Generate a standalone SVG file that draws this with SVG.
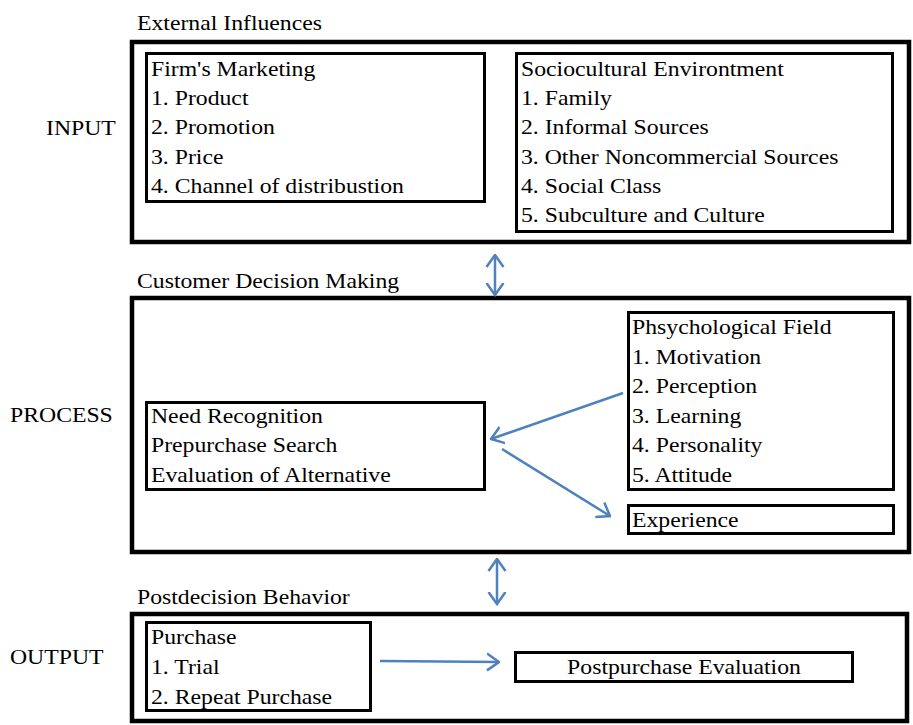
<svg xmlns="http://www.w3.org/2000/svg" width="913" height="725" viewBox="0 0 913 725">
<style>
text{font-size:21px;fill:#000}
.outer{fill:none;stroke:#000;stroke-width:4.5}
.inner{fill:none;stroke:#000;stroke-width:3}
.conn{fill:none;stroke:#4F81BD;stroke-width:2.5}
</style>
<defs>
<marker id="ah" viewBox="0 0 14 20" refX="12.5" refY="10" markerWidth="14" markerHeight="20" markerUnits="userSpaceOnUse" orient="auto-start-reverse">
<path d="M0.5,1.5 L12.5,10 L0.5,18.5" fill="none" stroke="#4F81BD" stroke-width="2.5"/>
</marker>
</defs>
<rect width="913" height="725" fill="#fff"/>
<g font-family="Liberation Serif, Times New Roman, serif">

<g id="labels">
<text transform="matrix(1.13 0 0 1 137 30)">External Influences</text>
<text transform="matrix(1.13 0 0 1 137 288)">Customer Decision Making</text>
<text transform="matrix(1.13 0 0 1 137 604)">Postdecision Behavior</text>
<text transform="matrix(1.13 0 0 1 46 135)">INPUT</text>
<text transform="matrix(1.13 0 0 1 10 422)">PROCESS</text>
<text transform="matrix(1.13 0 0 1 10 664)">OUTPUT</text>
</g>

<g id="input-panel"><rect class="outer" x="132" y="42" width="777" height="200"/></g>
<g id="process-panel"><rect class="outer" x="132" y="298" width="777" height="254"/></g>
<g id="output-panel"><rect class="outer" x="132" y="614" width="775" height="107"/></g>

<g id="firms-marketing">
<rect class="inner" x="146.5" y="53.5" width="338" height="148"/>
<text transform="matrix(1.13 0 0 1 151 76)">Firm's Marketing</text>
<text transform="matrix(1.13 0 0 1 151 105)">1. Product</text>
<text transform="matrix(1.13 0 0 1 151 134)">2. Promotion</text>
<text transform="matrix(1.13 0 0 1 151 164)">3. Price</text>
<text transform="matrix(1.13 0 0 1 151 193)">4. Channel of distribustion</text>
</g>

<g id="sociocultural">
<rect class="inner" x="516.5" y="53.5" width="376" height="178"/>
<text transform="matrix(1.13 0 0 1 521 76)">Sociocultural Environtment</text>
<text transform="matrix(1.13 0 0 1 521 105)">1. Family</text>
<text transform="matrix(1.13 0 0 1 521 134)">2. Informal Sources</text>
<text transform="matrix(1.13 0 0 1 521 164)">3. Other Noncommercial Sources</text>
<text transform="matrix(1.13 0 0 1 521 193)">4. Social Class</text>
<text transform="matrix(1.13 0 0 1 521 222)">5. Subculture and Culture</text>
</g>

<g id="psychological-field">
<rect class="inner" x="628.5" y="312.5" width="265" height="177"/>
<text transform="matrix(1.13 0 0 1 632 334)">Phsychological Field</text>
<text transform="matrix(1.13 0 0 1 632 364)">1. Motivation</text>
<text transform="matrix(1.13 0 0 1 632 393)">2. Perception</text>
<text transform="matrix(1.13 0 0 1 632 423)">3. Learning</text>
<text transform="matrix(1.13 0 0 1 632 452)">4. Personality</text>
<text transform="matrix(1.13 0 0 1 632 482)">5. Attitude</text>
</g>

<g id="experience">
<rect class="inner" x="628.5" y="505.5" width="265" height="28"/>
<text transform="matrix(1.13 0 0 1 632 527)">Experience</text>
</g>

<g id="decision">
<rect class="inner" x="146.5" y="402.5" width="338" height="87"/>
<text transform="matrix(1.13 0 0 1 151 423)">Need Recognition</text>
<text transform="matrix(1.13 0 0 1 151 452)">Prepurchase Search</text>
<text transform="matrix(1.13 0 0 1 151 482)">Evaluation of Alternative</text>
</g>

<g id="purchase">
<rect class="inner" x="146.5" y="622.5" width="224" height="88"/>
<text transform="matrix(1.13 0 0 1 151 644)">Purchase</text>
<text transform="matrix(1.13 0 0 1 151 674)">1. Trial</text>
<text transform="matrix(1.13 0 0 1 151 704)">2. Repeat Purchase</text>
</g>

<g id="postpurchase">
<rect class="inner" x="515.5" y="652.5" width="337" height="29"/>
<text transform="matrix(1.13 0 0 1 684 674)" text-anchor="middle">Postpurchase Evaluation</text>
</g>
</g>

<g id="connectors">
<line class="conn" x1="495" y1="255" x2="495" y2="295" marker-start="url(#ah)" marker-end="url(#ah)"/>
<line class="conn" x1="497" y1="559" x2="497" y2="604" marker-start="url(#ah)" marker-end="url(#ah)"/>
<line class="conn" x1="623" y1="393" x2="491" y2="439" marker-end="url(#ah)"/>
<line class="conn" x1="502" y1="449" x2="610" y2="516" marker-end="url(#ah)"/>
<line class="conn" x1="380" y1="661" x2="499" y2="662" marker-end="url(#ah)"/>
</g>
</svg>
